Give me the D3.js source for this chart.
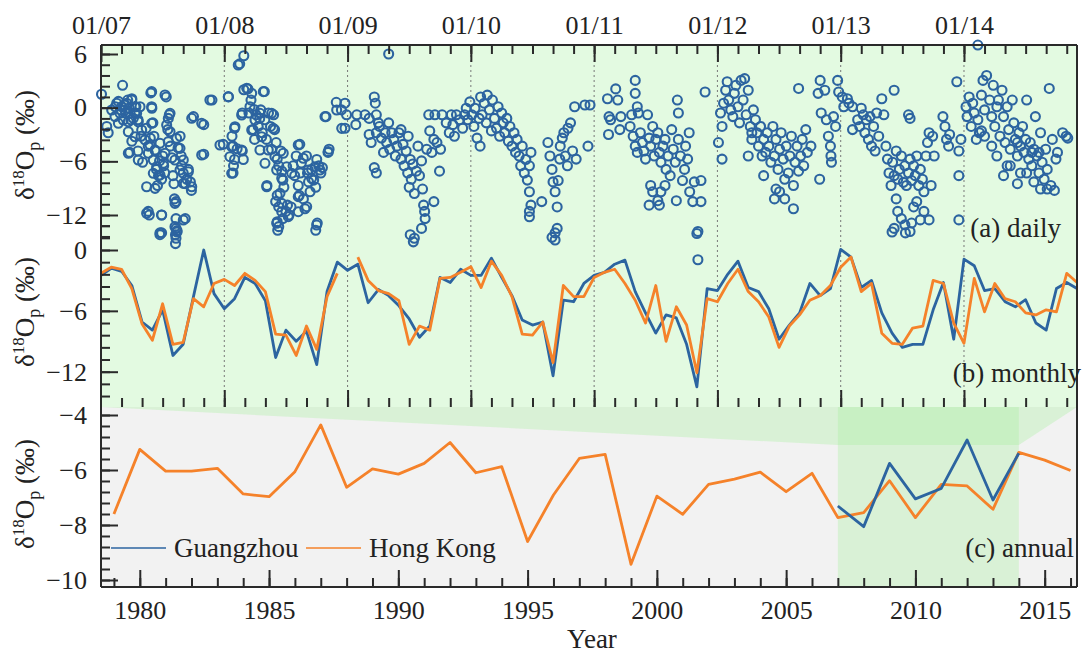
<!DOCTYPE html>
<html><head><meta charset="utf-8">
<script src="https://cdn.jsdelivr.net/npm/d3@7"></script>
<style>
html,body{margin:0;padding:0;background:#fff;}
svg{display:block;}
text{font-family:"Liberation Serif","Times New Roman",serif;fill:#222;}
</style></head><body>
<svg id="chart" width="1089" height="654"></svg>
<script>
// ---------- DATA ----------
const topTickLabels = ["01/07","01/08","01/09","01/10","01/11","01/12","01/13","01/14"];
const yearTicks = [1980,1985,1990,1995,2000,2005,2010,2015];
const panelLabels = ["(a) daily","(b) monthly","(c) annual"];
const seriesNames = ["Guangzhou","Hong Kong"];

// daily Guangzhou: [months since 01/2007, value]
const dailyGZ = [
[0.05,1.5],[0.56,-2.1],[0.7,-2.8],[1.4,0.1],[1.7,0.7],[1.9,-0.25],[2.1,2.5],[2.25,0.3],[2.4,-0.6],[2.6,0.85],[2.75,-0.07],[2.9,-1.35],[3.0,1.0],[3.3,-0.6],[3.4,0.1],[3.6,-1.35],[3.8,0.1],[3.9,-3.2],[2.8,-5.0],[3.0,-3.75],[3.6,-4.85],[4.05,-6.1],[4.4,-2.3],[4.6,-4.3],[4.8,-3.4],[4.85,1.65],[4.95,-0.07],[5.05,-1.7],[5.15,-3.2],[5.3,-4.85],[5.4,-6.9],[5.5,-8.7],[5.6,-7.6],[5.7,-5.95],[5.9,-8.0],[6.0,-5.4],[6.1,-6.5],[6.2,-7.3],[6.35,1.2],[6.5,-2.45],[6.55,-1.2],[6.65,-0.8],[6.75,-4.3],[6.9,-5.6],[7.0,-7.6],[7.1,-8.5],[7.15,-10.2],[7.3,-10.5],[4.6,-11.6],[4.7,-12.0],[5.9,-12.0],[5.9,-14.0],[7.3,-12.4],[7.3,-13.5],[7.4,-13.75],[7.3,-14.6],[8.2,-12.4],[7.5,-4.5],[7.7,-3.2],[7.8,-5.4],[7.85,-6.5],[8.0,-7.3],[8.2,-8.5],[8.35,-8.0],[8.5,-6.9],[8.7,-8.3],[8.8,-9.25],[9.0,-1.0],[10.0,-1.9],[10.0,-5.2],[10.8,0.85],[11.9,-4.1],[12.4,1.2],[12.75,-3.2],[12.85,-4.3],[13.0,-2.3],[13.0,-5.8],[12.85,-7.3],[12.9,-6.5],[13.25,-4.6],[13.5,4.9],[13.9,5.8],[13.9,2.0],[13.75,-0.6],[13.75,-4.85],[13.85,-5.8],[14.3,2.1],[14.4,-0.6],[14.6,0.85],[14.8,-2.45],[14.9,-0.2],[14.95,-3.55],[15.1,-0.8],[15.3,-2.1],[15.45,-1.2],[15.55,-0.25],[15.7,-2.8],[15.9,1.8],[15.95,-1.35],[16.1,-3.55],[16.3,-0.6],[16.5,-2.1],[16.6,-4.65],[16.8,-0.8],[16.9,-2.45],[17.05,-3.9],[17.15,-5.75],[17.3,-6.5],[16.15,-8.7],[17.5,-4.85],[17.6,-7.1],[17.7,-8.1],[17.8,-8.9],[17.15,-9.8],[17.0,-10.5],[17.3,-11.1],[17.15,-12.75],[17.3,-13.3],[17.7,-12.4],[18.0,-11.6],[18.15,-10.9],[18.3,-12.0],[18.5,-11.1],[18.7,-6.5],[18.85,-7.6],[19.0,-5.4],[19.2,-8.7],[19.3,-9.8],[19.35,-4.1],[19.4,-7.3],[19.5,-6.2],[19.7,-10.2],[19.85,-11.3],[20.0,-5.4],[20.1,-7.3],[20.2,-8.3],[20.35,-9.4],[20.5,-6.9],[20.7,-8.1],[20.9,-8.9],[21.0,-5.8],[21.05,-12.9],[21.2,-6.5],[21.4,-7.3],[21.55,-6.7],[21.9,-1.0],[22.1,-5.0],[22.2,-4.65],[22.9,0.6],[23.4,-0.25],[23.75,0.5],[23.9,-0.8],[23.75,-2.3],[24.9,-0.8],[24.8,-1.9],[25.7,-0.8],[26.1,-1.2],[26.6,1.2],[26.7,0.5],[26.8,-0.8],[27.0,-1.7],[26.1,-3.0],[26.3,-3.9],[26.8,-2.8],[26.6,-6.7],[26.8,-7.3],[27.1,-2.1],[27.3,-3.4],[27.5,-5.0],[27.65,-2.8],[27.8,-3.9],[28.0,-1.7],[28.1,-4.65],[28.3,-2.8],[28.5,-3.55],[28.65,-5.4],[28.8,-4.3],[29.0,-2.8],[29.2,-5.75],[29.2,-2.45],[29.4,-4.1],[29.5,-6.5],[29.7,-4.85],[29.85,-7.3],[29.9,-3.2],[30.0,-8.9],[30.1,-5.8],[30.2,-8.0],[30.35,-6.3],[30.5,-9.6],[30.7,-7.1],[30.85,-4.3],[31.0,-7.6],[31.2,-5.95],[31.3,-9.1],[31.4,-10.9],[31.5,-11.6],[31.55,-12.4],[31.2,-13.5],[30.5,-14.6],[32.4,-10.5],[31.7,-4.65],[31.9,-0.8],[32.0,-2.6],[32.2,-5.0],[32.4,-3.55],[32.5,-0.8],[32.7,-3.9],[32.95,-7.1],[33.05,-4.65],[33.2,-0.8],[33.6,-1.7],[33.9,-2.8],[34.1,-0.8],[34.25,-1.9],[34.4,-3.2],[34.6,-0.8],[34.9,-1.35],[35.2,-2.3],[35.4,-0.8],[35.55,-0.07],[35.7,-1.35],[35.9,0.65],[36.1,-0.8],[36.3,-2.1],[36.4,-0.07],[36.6,-3.4],[36.8,-1.2],[36.9,-4.3],[36.95,1.2],[37.1,-0.8],[37.3,0.5],[37.5,-1.7],[37.6,1.4],[37.8,-0.25],[38.0,-2.6],[38.1,0.85],[38.3,-1.2],[38.5,-2.3],[38.65,0.1],[38.8,-3.2],[39.0,-0.6],[39.15,-1.7],[39.3,-2.8],[39.5,-1.2],[39.65,-3.75],[39.8,-2.1],[40.0,-4.3],[40.2,-2.8],[40.35,-5.0],[40.5,-3.55],[40.7,-5.4],[40.85,-6.5],[41.0,-4.3],[41.2,-7.3],[41.35,-5.8],[41.5,-8.1],[41.7,-9.4],[41.7,-6.5],[41.85,-5.0],[41.7,-11.6],[41.7,-12.2],[41.85,-10.9],[42.9,-10.5],
[43.5,-3.9],[43.7,-5.4],[43.9,-6.9],[44.0,-8.3],[44.2,-9.4],[44.4,-11.1],[44.5,-8.15],[44.65,-5.75],[44.7,-4.3],[44.9,-3.4],[45.05,-2.8],[45.2,-5.4],[45.4,-6.5],[45.45,-2.3],[45.7,-1.7],[45.9,-4.85],[46.1,0.1],[46.25,-5.75],[47.1,0.3],[47.6,0.3],[47.4,-4.3],[44.4,-13.5],[44.2,-14.0],
[49.3,1.0],[49.45,-1.0],[49.6,-1.35],[49.4,-3.0],[50.1,2.1],[50.3,0.85],[50.5,-2.45],[50.6,-1.0],[51.5,-2.1],[51.65,-0.8],[52.0,3.05],[52.0,1.6],[52.2,0.1],[52.3,-0.6],[51.8,-3.2],[52.0,-4.3],[52.2,-5.0],[52.5,-2.8],[52.7,-3.9],[52.85,-4.85],[53.2,-0.8],[53.0,-5.75],[53.35,-3.4],[53.5,-4.3],[53.7,-2.1],[53.85,-5.4],[54.0,-3.55],[54.2,-2.8],[54.35,-5.0],[54.5,-6.1],[54.7,-4.3],[54.9,-3.55],[55.0,-6.9],[55.2,-5.4],[55.4,-7.6],[55.55,-2.45],[55.7,-4.65],[55.9,-6.1],[56.1,0.85],[56.2,-0.6],[56.2,-3.55],[56.4,-5.4],[56.6,-8.15],[53.5,-8.7],[53.7,-9.4],[53.35,-10.9],[54.2,-10.4],[54.35,-10.9],[54.5,-9.4],[54.9,-8.7],[56.0,-10.4],[56.8,-6.9],[56.9,-4.3],[57.1,-5.75],[57.25,-2.8],[57.3,-9.4],[57.6,-10.5],[57.75,-8.3],[58.4,-10.5],[58.4,-8.15],[58.1,-13.85],[58.8,1.75],
[60.1,-3.9],[60.45,-5.75],[60.3,-0.6],[60.45,-2.1],[60.6,0.5],[60.8,1.95],[60.95,2.9],[61.1,0.85],[61.3,-0.25],[61.5,-1.0],[61.65,1.6],[61.8,2.5],[62.0,0.1],[62.15,-1.7],[62.3,3.05],[62.5,0.85],[62.65,3.25],[62.8,-0.8],[63.0,1.95],[63.2,-2.1],[63.35,-2.8],[63.5,-0.25],[63.7,-1.35],[63.0,-5.4],[63.35,-3.55],[63.85,-2.8],[64.0,-4.3],[64.2,-2.1],[64.35,-5.4],[64.5,-3.55],[64.7,-5.0],[64.5,-7.6],[64.85,-2.8],[65.0,-4.3],[65.2,-6.1],[65.4,-2.1],[65.55,-5.4],[65.7,-3.55],[65.7,-9.1],[65.9,-6.9],[66.05,-4.65],[66.2,-2.8],[66.4,-5.75],[66.55,-8.0],[66.55,-10.2],[66.7,-4.3],[66.9,-7.3],[67.05,-5.4],[67.2,-3.2],[67.4,-8.7],[67.4,-11.3],[67.55,-6.1],[67.75,-4.3],[67.9,-7.1],[68.1,-5.4],[68.25,-3.55],[68.4,-6.5],[68.6,-2.45],[68.75,-5.0],[69.1,-4.3],[69.95,-8.0],[67.9,2.15],[65.55,-10.2],[66.05,-9.4],
[70.0,3.05],[69.8,1.6],[70.1,-0.6],[70.45,1.95],[70.6,-1.35],[70.8,-3.2],[71.0,-4.3],[71.05,-5.4],[71.1,-6.1],[71.3,-1.0],[71.5,-2.1],[71.7,3.05],[71.8,1.75],[72.15,1.2],[72.3,0.1],[72.65,1.0],[72.8,0.5],[73.15,-2.45],[73.15,0.1],[73.65,-1.35],[73.85,-2.1],[74.0,-0.07],[74.2,-0.8],[74.35,-2.8],[74.5,-1.35],[74.7,-3.55],[74.85,-1.0],[75.0,-4.3],[75.2,-2.1],[75.35,-4.85],[75.5,-0.6],[75.7,-3.2],[76.0,1.0],[76.2,-0.8],[76.4,-4.3],[76.55,-5.75],[76.7,-7.3],[76.9,-8.7],[77.05,-6.1],[77.2,-7.6],[77.4,-4.85],[77.55,-8.0],[77.7,-6.9],[77.9,-5.4],[78.1,-8.35],[78.25,-6.5],[78.4,-8.7],[78.6,-7.3],[78.75,-5.75],[78.9,-8.15],[79.1,-6.5],[79.25,-7.6],[79.4,-5.4],[79.6,-8.7],[79.75,-6.9],[79.95,-8.0],[80.1,-9.4],[80.3,-5.4],[80.45,-3.9],[80.6,-2.8],[80.8,-8.7],[80.95,-3.2],[81.1,-5.4],[77.4,-10.2],[77.55,-11.6],[77.9,-12.4],[77.2,-13.5],[78.25,-13.1],[78.75,-13.85],[78.9,-12.9],[79.1,-11.1],[79.4,-10.5],[79.75,-12.55],[80.6,-12.55],[80.1,-11.6],[77.2,1.95],[78.75,-1.2],[78.6,-0.8],[81.95,-1.0],[82.15,-2.1],[82.3,-3.55],[82.5,-4.3],[82.6,-3.0],[83.3,2.9],[83.5,-4.85],[83.5,-7.6],[83.5,-12.55],[83.7,-3.55],
[85.35,7.0],[84.2,0.1],[84.3,-1.0],[84.5,1.2],[84.7,-2.1],[84.85,0.5],[85.0,-0.6],[85.35,-1.35],[85.5,-2.8],[85.7,1.4],[85.85,3.05],[86.0,-0.25],[86.2,3.6],[86.5,0.85],[86.7,-1.0],[86.85,2.5],[87.0,-2.1],[87.2,0.1],[87.35,0.85],[87.5,-3.2],[87.7,1.95],[87.85,-1.0],[88.0,-3.9],[88.2,0.1],[88.35,-2.45],[88.5,-4.65],[88.7,0.85],[88.85,-1.7],[89.0,-3.55],[89.2,-5.4],[89.35,-2.8],[89.5,-4.3],[89.7,-2.1],[89.85,-5.0],[90.0,-3.55],[90.1,0.85],[90.3,-5.75],[90.45,-3.9],[90.6,-6.5],[90.8,-4.65],[90.95,-1.0],[91.1,-5.4],[91.3,-7.3],[91.45,-2.8],[91.6,-6.1],[91.8,-8.0],[91.95,-4.65],[92.1,-6.9],[92.3,2.15],[92.45,-8.7],[92.6,-3.55],[92.8,-9.25],[92.95,-5.75],[93.1,-5.0],[93.6,-2.8],[93.95,-3.2],[94.1,-3.4],[87.85,-7.6],[89.2,-8.5],[88.2,-6.5],[90.1,-7.3],[90.8,-8.3],[91.45,-9.1],[92.1,-9.1],[87.2,-5.4],[86.7,-4.3],[86.0,-3.2],[85.2,-3.55],[85.7,-2.6],[89.2,-3.9],[88.5,-6.5],[89.5,-7.3],[90.6,-5.0],[91.3,-5.0],
[5.74,-14.2],[7.25,-14.2],[7.4,-13.9],[7.25,-15.2],[17.2,-13.7],[20.9,-13.7],[30.4,-15.0],[30.1,-14.2],[43.9,-14.5],[44.2,-14.8],[58.0,-14.07],[58.1,-17.0],[77.0,-13.9],[78.3,-14.0],[28.0,6.0],
[1.04,-0.26],[1.53,0.49],[2.01,0.11],[2.5,0.49],[2.99,0.86],[3.31,0.11],[1.36,-1.0],[1.85,-0.63],[2.34,-0.26],[2.82,-0.63],[3.47,-0.63],[1.69,-1.75],[2.17,-1.38],[2.66,-1.57],[3.15,-1.19],[3.63,-1.57],
[2.66,-2.69],[3.31,-3.25],[3.96,-2.5],[4.28,-3.6],[4.77,-4.17],[4.93,-1.75],[5.26,-4.73],[5.74,-3.98],[4.61,-5.1],[2.66,-5.1],[3.63,-5.85],[5.09,-5.85],[5.42,-6.6],[5.09,-7.34],[5.74,-7.53],[6.07,-6.22],[4.44,-8.84],[5.26,-9.02],[6.23,-5.1],[6.55,-3.8],[6.39,-1.94],[6.72,-0.63],[6.23,1.42],[4.93,1.79],[4.93,0.11],[6.72,-2.69],[7.36,-3.43],[7.69,-4.55],[7.2,-5.85],[8.01,-5.85],[7.69,-6.97],[8.5,-7.16],[8.01,-8.46],[8.83,-8.84],[8.83,-1.19],[9.8,-1.75],[9.8,-5.29],[10.6,0.86],[7.2,-10.7],[4.44,-11.8],[5.9,-12.0],[8.01,-12.56],[7.2,-13.3],[5.74,-14.0],
[12.39,1.23],[11.58,-4.17],[12.72,-4.36],[13.04,-2.13],[12.55,-5.48],[12.72,-7.34],[13.69,-4.73],[13.69,-0.82],[14.18,2.17],[14.67,1.6],[15.8,1.79],[14.5,0.11],[14.99,-1.38],[14.67,-2.5],[15.47,-0.63],[15.64,-3.25],[16.61,-0.63],[16.77,-2.31],[16.28,-4.73],[15.47,-4.73],[15.96,-6.22],[16.93,-5.48],[17.74,-5.1],[17.1,-6.97],[18.07,-6.6],[17.59,-7.9],[18.56,-7.34],[19.2,-4.17],[19.69,-5.66],[20.18,-6.97],[20.83,-6.6],[20.5,-7.9],[21.31,-6.97],[22.12,-4.92],[21.8,-1.0],[22.94,-0.26],[23.43,-2.31],[16.13,-8.84],[17.42,-9.58],[17.59,-10.7],[19.2,-9.95],[20.02,-11.07],[17.59,-11.63],[18.23,-12.19],[19.2,-11.63],[17.1,-12.93],[20.99,-13.12],[13.36,4.77]
];

// monthly values, 01/2007 .. 12/2014
const monthlyGZ = [-2.5,-1.8,-2.1,-3.5,-7.1,-7.9,-5.9,-10.4,-9.3,-4.6,0.0,-4.3,
 -5.8,-4.8,-2.7,-3.3,-5.0,-10.6,-7.9,-9.0,-8.0,-11.3,-4.1,-1.2,
 -2.0,-1.4,-5.2,-3.9,-4.5,-5.5,-6.8,-8.6,-7.5,-2.7,-3.2,-1.9,
 -2.5,-2.5,-0.8,-2.7,-4.5,-6.9,-7.4,-7.1,-12.4,-4.95,-5.1,-3.3,
 -2.5,-2.2,-1.4,-1.0,-4.1,-6.2,-8.2,-6.4,-6.7,-9.3,-13.5,-3.8,
 -4.0,-2.4,-1.1,-3.7,-4.1,-5.8,-8.8,-7.4,-6.2,-3.3,-4.5,-3.8,
 0.06,-0.7,-3.7,-3.0,-6.2,-8.2,-9.6,-9.3,-9.3,-5.9,-3.2,-8.8,
 -0.9,-1.55,-4.0,-3.8,-5.1,-5.6,-4.9,-7.2,-7.9,-3.8,-3.2,-3.8];
const monthlyHK = [-2.3,-1.7,-1.9,-3.8,-7.3,-8.9,-5.3,-9.3,-9.1,-4.8,-5.6,-3.3,
 -2.9,-3.5,-2.3,-3.0,-4.1,-8.3,-8.4,-10.4,-7.5,-9.8,-4.6,-2.3,
 null,-0.7,-3.0,-4.0,-4.3,-5.0,-9.3,-7.5,-7.9,-2.8,-2.7,-2.2,
 -1.65,-3.7,-1.1,-2.5,-4.6,-8.3,-8.4,-7.1,-11.1,-3.5,-4.6,-4.6,
 -2.7,-2.2,-1.9,-3.3,-4.95,-7.2,-3.5,-9.0,-5.6,-7.4,-12.1,-4.8,
 -5.1,-3.3,-1.9,-4.1,-5.1,-6.6,-9.6,-7.5,-6.4,-4.95,-4.5,-3.5,
 -1.7,-0.7,-4.1,-3.3,-8.2,-9.2,-9.3,-7.7,-7.5,-3.0,-3.3,-7.2,
 -9.2,-2.8,-6.1,-3.3,-4.8,-5.1,-6.2,-6.4,-5.9,-6.1,-2.3,-3.2];

// annual values
const yearsHK = d3.range(1979, 2017);
const annualHK = [-7.6,-5.25,-6.04,-6.04,-5.94,-6.87,-6.97,-6.06,-4.36,-6.63,-5.96,-6.15,-5.76,-5.0,-6.1,-5.88,-8.6,-6.91,-5.58,-5.43,-9.43,-6.95,-7.61,-6.52,-6.33,-6.08,-6.79,-6.12,-7.73,-7.55,-6.39,-7.73,-6.52,-6.58,-7.43,-5.36,-5.64,-6.02];
const yearsGZ = d3.range(2007, 2015);
const annualGZ = [-7.31,-8.06,-5.76,-7.05,-6.67,-4.91,-7.09,-5.39];
const highlightYears = [2007, 2014];

// ---------- LAYOUT ----------
const L=101, R=1077, T=45, MID=407, B=587;
const BLUE="#2c64a0", ORANGE="#f5822a", INK="#2a2a2a";
const svg = d3.select("#chart");

const xm = d3.scaleLinear().domain([0,95]).range([L,R]);
const xy = d3.scaleLinear().domain([1978.5,2016.25]).range([L,R]);
const ya = d3.scaleLinear().domain([6,-12]).range([54,215]);
const yb = d3.scaleLinear().domain([0,-12]).range([250,371.7]);
const yc = d3.scaleLinear().domain([-4,-10]).range([415,580]);

// backgrounds
svg.append("rect").attr("x",L).attr("y",T).attr("width",R-L).attr("height",MID-T).attr("fill","#e3fae1");
svg.append("rect").attr("x",L).attr("y",MID).attr("width",R-L).attr("height",B-MID).attr("fill","#f2f2f2");
const hx0 = xy(highlightYears[0]), hx1 = xy(highlightYears[1]);
svg.append("rect").attr("x",hx0).attr("y",MID).attr("width",hx1-hx0).attr("height",B-MID)
   .attr("fill","rgba(165,240,155,0.32)");
svg.append("polygon").attr("points",[[L,MID],[R,MID],[hx1,445],[hx0,445]].map(p=>p.join(",")).join(" "))
   .attr("fill","rgba(165,240,155,0.32)");

// dotted year separators in (a),(b)
svg.append("g").selectAll("line").data(d3.range(12,95,12)).join("line")
  .attr("x1",d=>xm(d)).attr("x2",d=>xm(d)).attr("y1",T).attr("y2",MID)
  .attr("stroke","#777").attr("stroke-width",1).attr("stroke-dasharray","2,3");

// daily scatter
svg.append("g").selectAll("circle").data(dailyGZ).join("circle")
  .attr("cx",d=>xm(d[0])).attr("cy",d=>ya(d[1])).attr("r",4.5)
  .attr("fill","none").attr("stroke",BLUE).attr("stroke-width",2.1);

// monthly lines
const lineM = y => d3.line().defined(d=>d!=null).x((d,i)=>xm(i)).y(d=>y(d));
svg.append("path").datum(monthlyGZ).attr("d",lineM(yb)).attr("fill","none")
  .attr("stroke",BLUE).attr("stroke-width",2.8).attr("stroke-linejoin","round");
svg.append("path").datum(monthlyHK).attr("d",lineM(yb)).attr("fill","none")
  .attr("stroke",ORANGE).attr("stroke-width",2.8).attr("stroke-linejoin","round");

// annual lines
svg.append("path").datum(annualHK).attr("d",d3.line().x((d,i)=>xy(yearsHK[i])).y(d=>yc(d)))
  .attr("fill","none").attr("stroke",ORANGE).attr("stroke-width",2.8).attr("stroke-linejoin","round");
svg.append("path").datum(annualGZ).attr("d",d3.line().x((d,i)=>xy(yearsGZ[i])).y(d=>yc(d)))
  .attr("fill","none").attr("stroke",BLUE).attr("stroke-width",2.8).attr("stroke-linejoin","round");

// ---------- AXES ----------
function styleAxis(g, fs){
  g.select(".domain").remove();
  g.selectAll(".tick line").attr("stroke",INK).attr("stroke-width",2);
  g.attr("font-family",null).attr("font-size",null);
  g.selectAll("text").attr("font-size",fs).attr("fill","#222");
}
const rng = (start, step, n) => d3.range(n).map(k => +(start + k*step).toFixed(3));

// top axis (months)
svg.append("g").attr("transform",`translate(0,${T})`)
  .call(d3.axisTop(xm).tickValues(rng(0,2,48)).tickSize(-9).tickFormat(""))
  .call(g=>styleAxis(g,26));
svg.append("g").attr("transform",`translate(0,${T})`)
  .call(d3.axisTop(xm).tickValues(rng(0,12,8)).tickSize(-17).tickPadding(11)
        .tickFormat((d,i)=>topTickLabels[i]))
  .call(g=>styleAxis(g,26));
// bottom of (b): month ticks pointing up
svg.append("g").attr("transform",`translate(0,${MID})`)
  .call(d3.axisBottom(xm).tickValues(rng(2,2,47)).tickSize(-9).tickFormat(""))
  .call(g=>styleAxis(g,26));
svg.append("g").attr("transform",`translate(0,${MID})`)
  .call(d3.axisBottom(xm).tickValues(rng(12,12,7)).tickSize(-17).tickFormat(""))
  .call(g=>styleAxis(g,26));
// bottom axis years
svg.append("g").attr("transform",`translate(0,${B})`)
  .call(d3.axisBottom(xy).tickValues(d3.range(1979,2017)).tickSize(-9).tickFormat(""))
  .call(g=>styleAxis(g,26));
svg.append("g").attr("transform",`translate(0,${B})`)
  .call(d3.axisBottom(xy).tickValues(yearTicks).tickSize(-17).tickPadding(14).tickFormat(d3.format("d")))
  .call(g=>styleAxis(g,26));

// left axes
function leftAxis(scale, majors, minors){
  svg.append("g").attr("transform",`translate(${L},0)`)
    .call(d3.axisLeft(scale).tickValues(minors).tickSize(-9).tickFormat(""))
    .call(g=>styleAxis(g,26));
  svg.append("g").attr("transform",`translate(${L},0)`)
    .call(d3.axisLeft(scale).tickValues(majors).tickSize(-17).tickPadding(14).tickFormat(d3.format("d")))
    .call(g=>styleAxis(g,26));
}
leftAxis(ya,[6,0,-6,-12], rng(6,-1.2,18));
leftAxis(yb,[0,-6,-12], rng(2.4,-1.2,15));
leftAxis(yc,[-4,-6,-8,-10], rng(-4,-0.4,16));

// frame
const frame = svg.append("g").attr("stroke",INK).attr("stroke-width",2);
frame.append("line").attr("x1",L).attr("x2",R).attr("y1",T).attr("y2",T);
frame.append("line").attr("x1",L).attr("x2",R).attr("y1",B).attr("y2",B);
frame.append("line").attr("x1",L).attr("x2",L).attr("y1",T).attr("y2",B);
frame.append("line").attr("x1",R).attr("x2",R).attr("y1",T).attr("y2",B);

// y titles
function yTitle(cy){
  const t = svg.append("text").attr("transform",`translate(34,${cy}) rotate(-90)`)
    .attr("text-anchor","middle").attr("font-size",27);
  t.append("tspan").text("δ");
  t.append("tspan").attr("font-size",17).attr("dy",-10).text("18");
  t.append("tspan").attr("dy",10).text("O");
  t.append("tspan").attr("font-size",18).attr("dy",6).text("p");
  t.append("tspan").attr("dy",-6).text(" (‰)");
}
yTitle(145); yTitle(312); yTitle(494);

// x title
svg.append("text").attr("x",592).attr("y",648).attr("text-anchor","middle").attr("font-size",27).text("Year");

// panel labels
svg.append("text").attr("x",1061).attr("y",237).attr("text-anchor","end").attr("font-size",27).text(panelLabels[0]);
svg.append("text").attr("x",1081).attr("y",382).attr("text-anchor","end").attr("font-size",27).text(panelLabels[1]);
svg.append("text").attr("x",1074).attr("y",557).attr("text-anchor","end").attr("font-size",27).text(panelLabels[2]);

// legend
const leg = [{x:111, c:BLUE, n:seriesNames[0]}, {x:306, c:ORANGE, n:seriesNames[1]}];
leg.forEach(d=>{
  svg.append("line").attr("x1",d.x).attr("x2",d.x+55).attr("y1",548).attr("y2",548)
     .attr("stroke",d.c).attr("stroke-width",1.6);
  svg.append("text").attr("x",d.x+63).attr("y",557).attr("font-size",27).text(d.n);
});
</script>
</body></html>
